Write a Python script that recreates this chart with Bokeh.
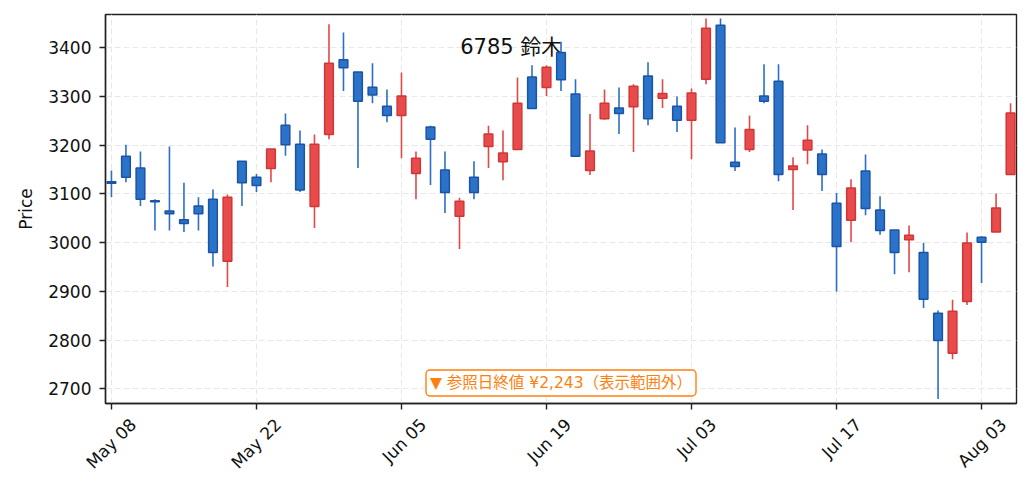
import numpy as np
from bokeh.plotting import figure
from bokeh.models import ColumnDataSource, FixedTicker, Range1d, Label, LinearAxis
from bokeh.core.properties import value
from bokeh.embed import file_html
from bokeh.resources import INLINE

# ---- data ----
open_ = [3125, 3177, 3153, 3086, 3065, 3047, 3075, 3089, 2962, 3167,
         3134, 3152, 3241, 3202, 3074, 3222, 3375, 3350, 3319, 3280,
         3261, 3142, 3237, 3149, 3054, 3134, 3197, 3166, 3191, 3340,
         3318, 3390, 3305, 3148, 3254, 3276, 3279, 3342, 3296, 3280,
         3251, 3335, 3446, 3165, 3191, 3301, 3331, 3150, 3190, 3182,
         3081, 3046, 3147, 3067, 3026, 3006, 2980, 2855, 2773, 2879,
         3011, 3022, 3140]
high = [3148, 3201, 3187, 3089, 3197, 3123, 3093, 3109, 3099, 3167,
        3141, 3192, 3265, 3230, 3222, 3448, 3431, 3350, 3368, 3314,
        3349, 3187, 3240, 3187, 3092, 3167, 3240, 3230, 3339, 3364,
        3364, 3412, 3335, 3264, 3314, 3318, 3325, 3370, 3335, 3300,
        3316, 3460, 3460, 3236, 3261, 3366, 3366, 3175, 3241, 3191,
        3102, 3130, 3181, 3095, 3026, 3035, 3000, 2861, 2883, 3021,
        3013, 3101, 3286]
low = [3093, 3124, 3075, 3025, 3025, 3022, 3025, 2951, 2909, 3075,
       3104, 3124, 3178, 3104, 3030, 3212, 3311, 3153, 3286, 3247,
       3173, 3089, 3118, 3061, 2987, 3089, 3153, 3128, 3191, 3275,
       3301, 3311, 3177, 3139, 3252, 3223, 3186, 3241, 3276, 3227,
       3171, 3325, 3205, 3147, 3186, 3286, 3126, 3067, 3161, 3106,
       2900, 3001, 3056, 3016, 2935, 2939, 2866, 2679, 2761, 2872,
       2917, 3022, 3140]
close = [3122, 3134, 3089, 3084, 3059, 3039, 3059, 2980, 3093, 3123,
         3117, 3192, 3201, 3108, 3202, 3368, 3359, 3290, 3303, 3261,
         3301, 3173, 3212, 3103, 3085, 3103, 3223, 3184, 3286, 3275,
         3360, 3334, 3177, 3188, 3286, 3265, 3321, 3254, 3306, 3251,
         3307, 3440, 3205, 3156, 3232, 3290, 3140, 3157, 3210, 3140,
         2992, 3112, 3070, 3025, 2980, 3015, 2884, 2799, 2859, 2999,
         3001, 3071, 3266]
tick_index = [0, 10, 20, 30, 40, 50, 60]
tick_labels = ["May 08", "May 22", "Jun 05", "Jun 19", "Jul 03", "Jul 17", "Aug 03"]
y_ticks = [2700, 2800, 2900, 3000, 3100, 3200, 3300, 3400]
title_text = "6785  鈴木"
note_text = "▼ 参照日終値 ¥2,243（表示範囲外）"

FONT = "'DejaVu Sans', 'Noto Sans CJK JP', sans-serif"
TXT = "#111111"
UP_FILL, UP_EDGE, UP_WICK = "#e84b4b", "#d13636", "#e34848"
DN_FILL, DN_EDGE, DN_WICK = "#2b72c9", "#1b54a6", "#2b6fc6"
AX = "#222222"

o = np.array(open_, float); h = np.array(high, float)
l = np.array(low, float); c = np.array(close, float)
x = np.arange(len(o))
up = c >= o
src = ColumnDataSource(dict(
    x=x, high=h, low=l,
    top=np.maximum(o, c), bottom=np.minimum(o, c),
    fill=np.where(up, UP_FILL, DN_FILL),
    edge=np.where(up, UP_EDGE, DN_EDGE),
    wick=np.where(up, UP_WICK, DN_WICK),
))

p = figure(width=1024, height=484, output_backend="svg", toolbar_location=None,
           x_range=Range1d(-0.41, 62.41), y_range=Range1d(2670, 3468),
           min_border_left=105, min_border_right=8, min_border_top=14,
           min_border_bottom=81)
p.background_fill_color = "white"
p.border_fill_color = "white"
p.outline_line_color = AX
p.outline_line_width = 1.4

for g in (p.xgrid, p.ygrid):
    g.grid_line_color = "#e8e8e8"
    g.grid_line_dash = "6 3"
    g.grid_line_width = 1
p.xgrid.ticker = FixedTicker(ticks=tick_index)
p.ygrid.ticker = FixedTicker(ticks=y_ticks)

# bottom axis: tick marks at the true positions, no labels
p.xaxis.ticker = FixedTicker(ticks=tick_index)
p.xaxis.major_label_overrides = {i: "" for i in tick_index}
p.xaxis.major_label_standoff = 0
p.xaxis.major_label_text_font_size = "1px"

# second bottom axis carrying the rotated labels, centred on the ticks
LABEL_SHIFT = 1.5
shifted = [t + LABEL_SHIFT for t in tick_index]
lab_axis = LinearAxis(ticker=FixedTicker(ticks=shifted),
                      major_label_overrides={s: lab for s, lab in zip(shifted, tick_labels)})
lab_axis.axis_line_color = None
lab_axis.major_tick_line_color = None
lab_axis.minor_tick_line_color = None
lab_axis.major_tick_out = 0
lab_axis.major_tick_in = 0
lab_axis.major_label_orientation = np.pi / 4
lab_axis.major_label_standoff = 12
lab_axis.major_label_text_font = FONT
lab_axis.major_label_text_font_size = "17px"
lab_axis.major_label_text_color = TXT
p.add_layout(lab_axis, "below")

for ax in (p.xaxis[0], p.yaxis[0]):
    ax.axis_line_color = AX
    ax.axis_line_width = 1.4
    ax.major_tick_line_color = AX
    ax.major_tick_line_width = 1.4
    ax.major_tick_out = 6
    ax.major_tick_in = 0
    ax.minor_tick_line_color = None
    ax.major_label_text_font = FONT
    ax.major_label_text_color = TXT
p.yaxis.ticker = FixedTicker(ticks=y_ticks)
p.yaxis.major_label_text_font_size = "17px"
p.yaxis.major_label_standoff = 8
p.yaxis.axis_label = "Price"
p.yaxis.axis_label_text_font = FONT
p.yaxis.axis_label_text_font_size = "17px"
p.yaxis.axis_label_text_font_style = "normal"
p.yaxis.axis_label_text_color = TXT
p.yaxis.axis_label_standoff = 9

# title text drawn under the candles
p.text(x=[24.05], y=[3401], text=[title_text], text_font=value(FONT),
       text_font_size=value("21px"), text_color=TXT,
       text_baseline="alphabetic", text_align="left")

# candles
p.segment(x0="x", y0="low", x1="x", y1="high", source=src,
          line_color="wick", line_width=1.6)
p.vbar(x="x", width=0.6, top="top", bottom="bottom", source=src,
       fill_color="fill", line_color="edge", line_width=1.5)

note = Label(x=31, y=2712, text=note_text, text_align="center",
             text_baseline="middle", text_font=FONT, text_font_size="15.5px",
             text_color="#ff7f0e", background_fill_color="white",
             border_line_color="#ff7f0e", border_line_width=1.4,
             padding=4, border_radius=4)
p.add_layout(note)

open("out.html", "w").write(file_html(p, INLINE))
